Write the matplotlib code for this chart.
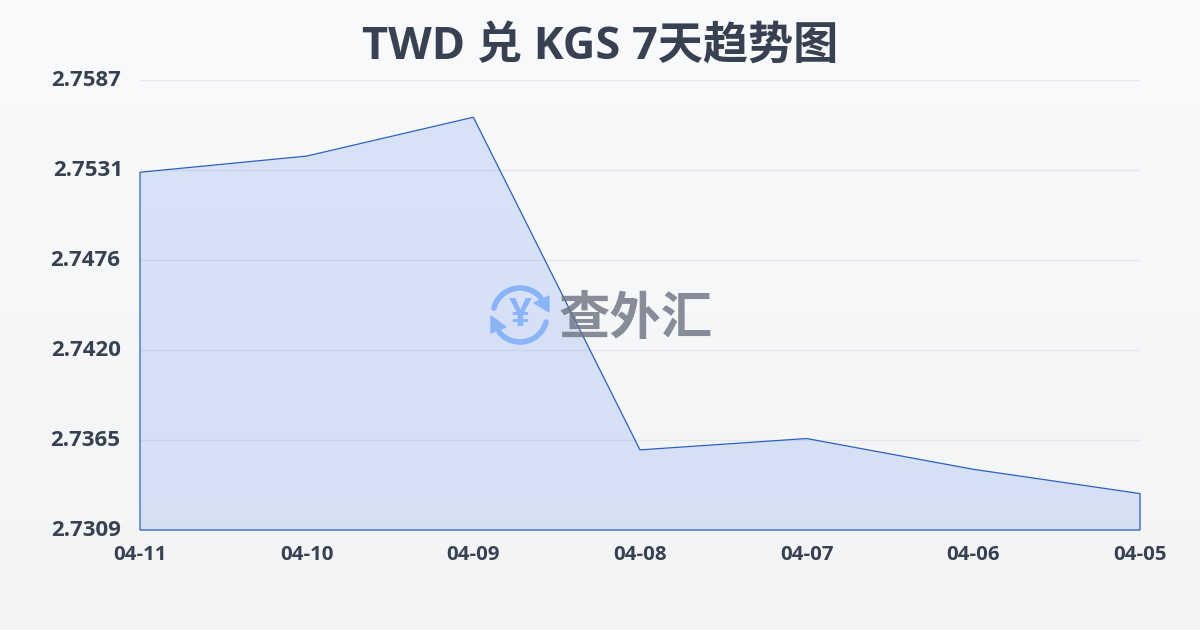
#!/usr/bin/env python3
"""
TWD / KGS 7 day trend chart
"""

import numpy as np
import matplotlib
matplotlib.use("Agg")
import matplotlib.pyplot as plt
from matplotlib.patches import Arc, Polygon
from matplotlib.transforms import ScaledTranslation

plt.rcParams['font.family'] = ['Open Sans', 'Noto Sans CJK SC', 'DejaVu Sans']

dates = ['04-11', '04-10', '04-09', '04-08', '04-07', '04-06', '04-05']
rates = [2.7530, 2.7540, 2.7564, 2.73585, 2.73655, 2.73465, 2.73315]
y_ticks = [2.7309, 2.7365, 2.7420, 2.7476, 2.7531, 2.7587]

TEXT = '#374151'
LINE = '#2a5fc4'

fig = plt.figure(figsize=(12, 6.3), dpi=100)

# page background, light vertical gradient
bg = fig.add_axes([0, 0, 1, 1], zorder=0)
bg.imshow(np.linspace(0, 1, 256).reshape(-1, 1),
          cmap=matplotlib.colors.LinearSegmentedColormap.from_list('bg', ['#f9fafb', '#f3f4f6']),
          aspect='auto', extent=[0, 1, 0, 1])
bg.axis('off')

ax = fig.add_axes([140 / 1200, 100 / 630, 1000 / 1200, 450 / 630], zorder=1)
ax.patch.set_alpha(0)
x = np.arange(len(dates))
ax.set_xlim(0, len(dates) - 1)
ax.set_ylim(y_ticks[0], y_ticks[-1])

# gridlines sit at even steps, labels are rounded values
grid_pos = np.linspace(y_ticks[0], y_ticks[-1], len(y_ticks))
ax.set_yticks(grid_pos)
ax.set_yticklabels([f'{v:.4f}' for v in y_ticks])
ax.set_xticks(x)
ax.set_xticklabels(dates)
ax.grid(axis='y', color='#e5e7eb', linewidth=1)
ax.set_axisbelow(True)
for s in ax.spines.values():
    s.set_visible(False)
ax.tick_params(axis='both', length=0)
ax.tick_params(axis='y', pad=14, labelsize=16, labelcolor=TEXT)
ax.tick_params(axis='x', pad=11, labelsize=14.7, labelcolor=TEXT)
for lab in ax.get_yticklabels() + ax.get_xticklabels():
    lab.set_fontweight('bold')

# y labels sit about 2px above their gridlines, 2.7531 a little to the right
for i, lab in enumerate(ax.get_yticklabels()):
    dx = 2 if i == 4 else 0
    lab.set_transform(lab.get_transform() + ScaledTranslation(dx / 72, 2 / 100, fig.dpi_scale_trans))

ax.fill_between(x, rates, y_ticks[0], color='#2468e8', alpha=0.15, linewidth=0)
outline = list(zip(x, rates)) + [(x[-1], y_ticks[0]), (x[0], y_ticks[0])]
ax.add_patch(Polygon(outline, closed=True, fill=False, edgecolor=LINE, linewidth=0.9,
                     clip_on=False, joinstyle='miter'))

fig.text(0.5, 1 - 47.5 / 630, 'TWD 兑 KGS 7天趋势图', ha='center', va='center',
         fontsize=32.5, fontweight='bold', color=TEXT)

# watermark logo, pixel coordinates
logo = fig.add_axes([0, 0, 1, 1], zorder=2)
logo.set_xlim(0, 1200)
logo.set_ylim(630, 0)
logo.axis('off')
BLUE = '#8ab4f8'
cx, cy = 520, 315
logo.add_patch(Arc((cx, cy), 54, 54, theta1=195, theta2=320, color=BLUE, lw=4, capstyle='round'))
logo.add_patch(Arc((cx, cy), 54, 54, theta1=15, theta2=140, color=BLUE, lw=4, capstyle='round'))
logo.add_patch(Polygon([(549, 296), (549, 312), (534, 303)], closed=True, color=BLUE))
logo.add_patch(Polygon([(491, 316), (491, 333), (506, 327)], closed=True, color=BLUE))
logo.text(cx, cy, '¥', ha='center', va='center', fontsize=29, fontweight='bold', color=BLUE)
logo.text(636, 321, '查外汇', ha='center', va='center', fontsize=37, fontweight='bold',
          color='#6b7280', alpha=0.8)

fig.savefig('out.png', dpi=100)
